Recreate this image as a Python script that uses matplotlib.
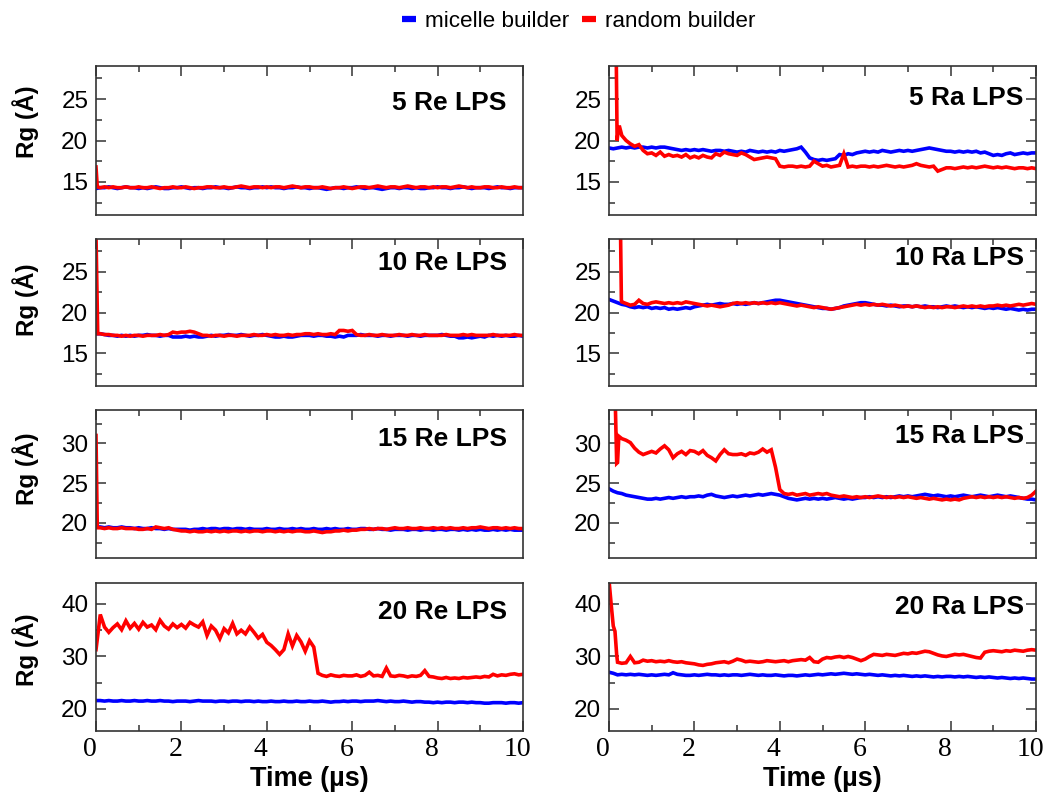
import numpy as np
import matplotlib
matplotlib.use('Agg')
import matplotlib.pyplot as plt
from matplotlib.lines import Line2D
from matplotlib.ticker import MultipleLocator
from matplotlib.transforms import ScaledTranslation

# -------------------------------------------------------------------
# Data: Rg (Angstrom) sampled every 0.1 us from 0 to 10 us
# -------------------------------------------------------------------
SAMPLE_TIME = np.linspace(0, 10, 101)

re5_micelle = [
    14.2, 14.3, 14.3, 14.4, 14.3, 14.2, 14.3, 14.4, 14.3, 14.3,
    14.2, 14.3, 14.2, 14.3, 14.4, 14.3, 14.2, 14.2, 14.3, 14.3,
    14.4, 14.3, 14.2, 14.3, 14.3, 14.2, 14.3, 14.3, 14.4, 14.3,
    14.3, 14.2, 14.3, 14.4, 14.3, 14.3, 14.2, 14.3, 14.3, 14.4,
    14.3, 14.4, 14.3, 14.3, 14.2, 14.3, 14.3, 14.4, 14.3, 14.3,
    14.2, 14.3, 14.3, 14.2, 14.1, 14.2, 14.3, 14.3, 14.2, 14.3,
    14.3, 14.4, 14.3, 14.2, 14.3, 14.3, 14.2, 14.1, 14.2, 14.3,
    14.3, 14.2, 14.3, 14.3, 14.2, 14.3, 14.2, 14.2, 14.3, 14.3,
    14.4, 14.3, 14.3, 14.2, 14.3, 14.3, 14.4, 14.3, 14.2, 14.3,
    14.3, 14.3, 14.2, 14.3, 14.4, 14.3, 14.3, 14.2, 14.3, 14.3,
    14.3]
re5_random = [
    16.8, 14.3, 14.4, 14.3, 14.4, 14.3, 14.3, 14.4, 14.3, 14.3,
    14.4, 14.3, 14.3, 14.4, 14.3, 14.2, 14.3, 14.3, 14.4, 14.3,
    14.3, 14.4, 14.3, 14.2, 14.3, 14.3, 14.4, 14.4, 14.3, 14.3,
    14.4, 14.3, 14.3, 14.4, 14.5, 14.4, 14.3, 14.4, 14.4, 14.3,
    14.4, 14.3, 14.4, 14.4, 14.3, 14.4, 14.5, 14.4, 14.3, 14.4,
    14.4, 14.3, 14.3, 14.4, 14.3, 14.2, 14.3, 14.3, 14.4, 14.3,
    14.2, 14.3, 14.4, 14.4, 14.3, 14.4, 14.5, 14.4, 14.3, 14.4,
    14.4, 14.3, 14.4, 14.5, 14.4, 14.3, 14.4, 14.4, 14.3, 14.4,
    14.3, 14.4, 14.4, 14.3, 14.4, 14.5, 14.4, 14.3, 14.4, 14.3,
    14.3, 14.4, 14.4, 14.3, 14.3, 14.4, 14.3, 14.3, 14.4, 14.3,
    14.3]
re5_random_early_t = [0.03]
re5_random_early = [14.4]

re10_micelle = [
    17.4, 17.4, 17.3, 17.2, 17.2, 17.1, 17.2, 17.1, 17.2, 17.1,
    17.2, 17.2, 17.3, 17.2, 17.2, 17.1, 17.2, 17.2, 17.0, 17.0,
    17.0, 17.1, 17.0, 17.1, 17.0, 17.0, 17.1, 17.2, 17.1, 17.2,
    17.2, 17.3, 17.2, 17.2, 17.3, 17.2, 17.1, 17.2, 17.2, 17.3,
    17.2, 17.1, 17.0, 17.0, 17.1, 17.0, 17.0, 17.1, 17.2, 17.2,
    17.2, 17.1, 17.2, 17.2, 17.1, 17.1, 17.0, 17.1, 17.0, 17.2,
    17.2, 17.2, 17.3, 17.2, 17.2, 17.2, 17.1, 17.2, 17.2, 17.1,
    17.2, 17.2, 17.2, 17.1, 17.2, 17.2, 17.1, 17.2, 17.2, 17.2,
    17.2, 17.3, 17.2, 17.1, 17.1, 16.9, 16.9, 17.0, 16.9, 17.0,
    17.1, 17.0, 17.2, 17.1, 17.2, 17.1, 17.2, 17.1, 17.1, 17.2,
    17.1]
re10_random = [
    29.5, 17.4, 17.3, 17.3, 17.2, 17.2, 17.1, 17.2, 17.1, 17.2,
    17.2, 17.1, 17.2, 17.2, 17.2, 17.3, 17.2, 17.3, 17.6, 17.5,
    17.6, 17.6, 17.7, 17.6, 17.4, 17.2, 17.2, 17.1, 17.2, 17.2,
    17.1, 17.2, 17.2, 17.1, 17.2, 17.2, 17.2, 17.3, 17.2, 17.2,
    17.3, 17.2, 17.3, 17.2, 17.2, 17.3, 17.2, 17.3, 17.3, 17.4,
    17.4, 17.3, 17.4, 17.3, 17.3, 17.4, 17.3, 17.8, 17.8, 17.7,
    17.8, 17.3, 17.2, 17.2, 17.3, 17.2, 17.2, 17.3, 17.2, 17.2,
    17.2, 17.3, 17.2, 17.2, 17.3, 17.2, 17.2, 17.3, 17.2, 17.2,
    17.2, 17.2, 17.3, 17.2, 17.2, 17.2, 17.3, 17.2, 17.3, 17.2,
    17.2, 17.2, 17.2, 17.3, 17.2, 17.2, 17.2, 17.2, 17.3, 17.2,
    17.2]
re10_random_early_t = [0.04]
re10_random_early = [17.4]

re15_micelle = [
    19.5, 19.5, 19.4, 19.5, 19.4, 19.4, 19.5, 19.4, 19.4, 19.3,
    19.4, 19.3, 19.3, 19.4, 19.3, 19.3, 19.2, 19.3, 19.2, 19.2,
    19.2, 19.2, 19.1, 19.2, 19.2, 19.3, 19.2, 19.3, 19.3, 19.2,
    19.3, 19.3, 19.2, 19.3, 19.3, 19.2, 19.3, 19.2, 19.2, 19.2,
    19.3, 19.2, 19.2, 19.3, 19.2, 19.2, 19.3, 19.2, 19.3, 19.2,
    19.2, 19.3, 19.2, 19.2, 19.3, 19.2, 19.3, 19.2, 19.2, 19.3,
    19.2, 19.2, 19.3, 19.3, 19.2, 19.2, 19.3, 19.2, 19.2, 19.1,
    19.2, 19.2, 19.2, 19.1, 19.2, 19.2, 19.1, 19.2, 19.2, 19.1,
    19.2, 19.2, 19.1, 19.2, 19.2, 19.1, 19.2, 19.1, 19.2, 19.1,
    19.2, 19.1, 19.1, 19.2, 19.1, 19.2, 19.1, 19.2, 19.1, 19.1,
    19.1]
re15_random = [
    31.0, 19.4, 19.3, 19.4, 19.3, 19.3, 19.4, 19.3, 19.3, 19.3,
    19.2, 19.2, 19.3, 19.2, 19.5, 19.4, 19.3, 19.4, 19.2, 19.1,
    19.0, 19.0, 18.9, 19.0, 18.9, 18.9, 19.0, 18.9, 19.0, 18.9,
    19.0, 18.9, 19.0, 19.0, 18.9, 19.0, 18.9, 19.0, 19.0, 18.9,
    19.0, 19.0, 18.9, 19.0, 18.9, 19.0, 18.9, 19.0, 19.0, 18.9,
    18.9, 19.0, 18.9, 18.8, 18.9, 18.9, 19.0, 19.0, 19.1, 19.0,
    19.1, 19.1, 19.2, 19.2, 19.3, 19.2, 19.3, 19.3, 19.2, 19.3,
    19.4, 19.3, 19.3, 19.4, 19.3, 19.3, 19.4, 19.3, 19.3, 19.4,
    19.3, 19.4, 19.3, 19.4, 19.3, 19.3, 19.4, 19.3, 19.4, 19.4,
    19.5, 19.4, 19.3, 19.4, 19.4, 19.3, 19.4, 19.3, 19.4, 19.3,
    19.3]
re15_random_early_t = [0.03]
re15_random_early = [19.4]

re20_micelle = [
    21.6, 21.6, 21.5, 21.6, 21.5, 21.5, 21.6, 21.5, 21.5, 21.6,
    21.5, 21.5, 21.6, 21.5, 21.5, 21.6, 21.5, 21.5, 21.4, 21.5,
    21.5, 21.5, 21.4, 21.5, 21.6, 21.5, 21.5, 21.5, 21.4, 21.5,
    21.5, 21.4, 21.5, 21.5, 21.4, 21.5, 21.5, 21.4, 21.5, 21.4,
    21.4, 21.5, 21.4, 21.4, 21.5, 21.4, 21.4, 21.5, 21.4, 21.4,
    21.5, 21.4, 21.4, 21.5, 21.4, 21.3, 21.4, 21.4, 21.5, 21.4,
    21.5, 21.5, 21.4, 21.5, 21.5, 21.5, 21.6, 21.5, 21.4, 21.5,
    21.4, 21.4, 21.5, 21.4, 21.3, 21.4, 21.4, 21.3, 21.3, 21.2,
    21.3, 21.2, 21.3, 21.3, 21.2, 21.3, 21.3, 21.2, 21.3, 21.2,
    21.2, 21.1, 21.1, 21.2, 21.2, 21.2, 21.1, 21.2, 21.2, 21.1,
    21.2]
re20_random = [
    31.3, 38.0, 35.6, 34.6, 35.5, 36.2, 35.1, 36.8, 35.4, 36.3,
    35.2, 36.5, 35.6, 36.0, 35.1, 36.9, 35.8, 35.2, 36.2, 35.5,
    36.1, 35.4, 36.5, 36.0, 35.6, 36.6, 34.0, 35.8, 35.0, 33.4,
    35.3, 34.5, 36.3, 34.3, 35.0, 34.3, 35.6, 34.6, 33.5, 34.2,
    32.7, 32.1, 31.3, 30.4, 31.3, 34.3, 32.0, 34.0, 32.8, 31.0,
    33.0, 31.8, 26.8, 26.4, 26.2, 26.5, 26.3, 26.2, 26.4, 26.3,
    26.3, 26.5, 26.2, 26.4, 27.0, 26.3, 26.4, 26.2, 27.8, 26.3,
    26.2, 26.4, 26.3, 26.1, 26.3, 26.2, 26.4, 27.3, 26.2, 26.1,
    25.9, 25.8, 26.0, 25.8, 25.9, 25.8, 26.0, 25.9, 26.0, 26.1,
    26.0, 26.2, 26.1, 26.6, 26.3, 26.5, 26.4, 26.6, 26.7, 26.5,
    26.6]
re20_random_early_t = [0.05]
re20_random_early = [34.6]

ra5_micelle = [
    19.1, 19.0, 19.1, 19.2, 19.1, 19.2, 19.1, 19.2, 19.2, 19.1,
    19.2, 19.1, 19.2, 19.2, 19.1, 19.0, 18.9, 18.8, 18.9, 18.8,
    18.9, 18.8, 18.9, 18.8, 18.7, 18.8, 18.8, 18.7, 18.8, 18.7,
    18.6, 18.7, 18.6, 18.8, 18.7, 18.6, 18.7, 18.6, 18.7, 18.6,
    18.8, 18.7, 18.8, 18.9, 19.0, 19.2, 18.6, 17.9, 17.7, 17.6,
    17.7, 17.6, 17.7, 17.8, 18.3, 18.2, 18.4, 18.3, 18.5, 18.6,
    18.7, 18.6, 18.7, 18.6, 18.8, 18.7, 18.6, 18.7, 18.8, 18.7,
    18.8, 18.7, 18.8, 18.9, 19.0, 19.1, 19.0, 18.9, 18.8, 18.7,
    18.7, 18.6, 18.7, 18.6, 18.7, 18.6, 18.7, 18.5, 18.6, 18.4,
    18.2, 18.3, 18.2, 18.4, 18.5, 18.3, 18.4, 18.5, 18.4, 18.5,
    18.5]
ra5_random = [
    32.0, 31.0, 20.5, 20.6, 20.0, 19.6, 19.3, 19.5, 18.8, 18.4,
    18.5, 18.2, 18.6, 18.1, 18.3, 18.1, 18.2, 18.0, 18.3, 17.9,
    18.1, 17.9, 18.2, 18.0, 17.9, 18.4, 18.2, 18.6, 18.4, 18.3,
    18.2, 18.5, 18.3, 18.0, 17.7, 17.8, 17.9, 18.0, 17.9, 17.8,
    16.9, 16.8, 16.9, 16.9, 16.8, 16.9, 16.8, 16.9, 17.5, 17.2,
    16.9, 17.0, 16.8, 16.9, 17.0, 18.4, 16.8, 16.9, 16.8, 16.9,
    16.9, 16.8, 16.9, 16.8, 16.9, 17.0, 16.9, 16.8, 16.9, 16.8,
    16.9, 17.0, 17.2, 17.0, 16.9, 16.8, 16.9, 16.3, 16.5, 16.7,
    16.7, 16.6, 16.7, 16.8, 16.7, 16.8, 16.7, 16.8, 16.9, 16.8,
    16.7, 16.8, 16.7, 16.8, 16.7, 16.6, 16.7, 16.7, 16.6, 16.7,
    16.6]
ra5_random_early_t = [0.17, 0.19, 0.24]
ra5_random_early = [30.0, 20.0, 21.8]

ra10_micelle = [
    21.6, 21.4, 21.2, 21.0, 20.9, 20.7, 20.6, 20.7, 20.6, 20.7,
    20.5, 20.6, 20.5, 20.6, 20.4, 20.5, 20.4, 20.5, 20.6, 20.5,
    20.7, 20.8, 20.9, 21.0, 20.9, 21.0, 21.1, 21.0, 21.0, 21.1,
    21.0, 21.1, 21.0, 21.1, 21.2, 21.1, 21.2, 21.3, 21.4, 21.5,
    21.5, 21.4, 21.3, 21.2, 21.1, 21.0, 20.9, 20.8, 20.7, 20.6,
    20.5, 20.5, 20.4, 20.5, 20.6, 20.8, 20.9, 21.0, 21.1, 21.2,
    21.2, 21.1, 21.0, 20.9, 20.9, 20.8, 20.9, 20.8, 20.7, 20.8,
    20.8, 20.7, 20.8, 20.7, 20.8, 20.7, 20.7, 20.6, 20.7, 20.8,
    20.7, 20.8, 20.7, 20.6, 20.7, 20.6, 20.7, 20.6, 20.5, 20.6,
    20.5, 20.6, 20.5, 20.4, 20.5, 20.4, 20.3, 20.4, 20.3, 20.4,
    20.4]
ra10_random = [
    31.0, 31.0, 31.0, 21.3, 21.1, 20.9, 21.0, 21.5, 21.1, 21.0,
    21.2, 21.3, 21.2, 21.1, 21.2, 21.1, 21.2, 21.1, 21.3, 21.2,
    21.1, 21.0, 20.9, 20.8, 20.9, 20.8, 20.7, 20.8, 20.9, 21.1,
    21.2, 21.1, 21.2, 21.1, 21.2, 21.1, 21.2, 21.1, 21.2, 21.1,
    21.2, 21.1, 21.0, 20.9, 20.8, 20.9, 20.8, 20.7, 20.6, 20.7,
    20.6, 20.5, 20.4, 20.5, 20.6, 20.7, 20.8, 20.9, 21.0, 20.9,
    21.0, 20.9, 21.0, 20.9, 21.0, 20.9, 20.8, 20.9, 20.8, 20.7,
    20.8, 20.7, 20.8, 20.7, 20.6, 20.7, 20.6, 20.7, 20.6, 20.7,
    20.7, 20.6, 20.7, 20.8, 20.7, 20.8, 20.7, 20.8, 20.7, 20.8,
    20.8, 20.9, 20.8, 20.9, 20.8, 20.9, 21.0, 20.9, 21.0, 21.1,
    21.0]
ra10_random_early_t = [0.27, 0.29]
ra10_random_early = [30.0, 21.4]

ra15_micelle = [
    24.3, 24.0, 23.8, 23.7, 23.5, 23.4, 23.3, 23.2, 23.1, 23.0,
    23.0, 23.1, 23.0, 23.1, 23.2, 23.1, 23.2, 23.3, 23.2, 23.3,
    23.3, 23.4, 23.3, 23.5, 23.6, 23.4, 23.3, 23.2, 23.3, 23.4,
    23.3, 23.4, 23.5, 23.4, 23.5, 23.6, 23.5, 23.6, 23.7, 23.6,
    23.5, 23.3, 23.1, 23.0, 22.9, 23.0, 23.1, 23.0, 23.1, 23.0,
    23.1, 23.0, 23.1, 23.2, 23.1, 23.0, 23.1, 23.0, 23.1, 23.2,
    23.2, 23.3, 23.2, 23.3, 23.2, 23.3, 23.2, 23.3, 23.4, 23.3,
    23.4, 23.3, 23.4, 23.5, 23.6, 23.5, 23.4, 23.5, 23.4, 23.3,
    23.4, 23.3, 23.4, 23.5, 23.4, 23.3, 23.4, 23.5, 23.4, 23.3,
    23.4, 23.5, 23.4, 23.3, 23.4, 23.3, 23.2, 23.1, 23.0, 23.0,
    22.9]
ra15_random = [
    35.0, 35.0, 27.6, 30.6, 30.4, 30.1, 29.4, 28.9, 28.6, 28.8,
    29.0, 28.8, 29.3, 29.7, 29.2, 28.2, 28.7, 29.0, 28.6, 29.1,
    29.0, 28.7, 29.1, 28.5, 28.2, 27.8, 28.6, 29.2, 28.7, 28.6,
    28.6, 28.7, 28.5, 28.8, 28.7, 28.9, 29.3, 28.9, 29.2, 27.0,
    24.2, 23.7, 23.6, 23.7, 23.5, 23.6, 23.7, 23.5, 23.6, 23.7,
    23.6, 23.7, 23.5, 23.4, 23.3, 23.4, 23.3, 23.2, 23.3, 23.2,
    23.3, 23.2, 23.3, 23.4, 23.3, 23.2, 23.3, 23.2, 23.3, 23.2,
    23.3, 23.2, 23.1, 23.2, 23.1, 23.0, 23.1, 23.0, 22.9, 23.0,
    22.9, 23.0, 22.9, 23.1, 23.2, 23.3, 23.2, 23.3, 23.2, 23.3,
    23.2, 23.3, 23.2, 23.3, 23.2, 23.1, 23.2, 23.1, 23.2, 23.5,
    24.0]
ra15_random_early_t = [0.15, 0.18, 0.23]
ra15_random_early = [34.5, 27.5, 30.9]

ra20_micelle = [
    27.0, 26.8, 26.5, 26.6, 26.5, 26.6, 26.5, 26.6, 26.5, 26.4,
    26.5, 26.4, 26.5, 26.6, 26.5, 26.9, 26.6, 26.5, 26.4, 26.4,
    26.5, 26.4, 26.5, 26.6, 26.5, 26.5, 26.4, 26.5, 26.4, 26.5,
    26.5, 26.4, 26.5, 26.6, 26.5, 26.4, 26.5, 26.4, 26.4, 26.5,
    26.4, 26.3, 26.4, 26.4, 26.3, 26.4, 26.5, 26.4, 26.5, 26.6,
    26.5, 26.6, 26.7, 26.6, 26.7, 26.8, 26.7, 26.6, 26.7, 26.6,
    26.5, 26.6, 26.5, 26.4, 26.5, 26.4, 26.3, 26.4, 26.3, 26.4,
    26.3, 26.2, 26.3, 26.2, 26.3, 26.2, 26.1, 26.2, 26.1, 26.2,
    26.2, 26.1, 26.2, 26.1, 26.2, 26.1, 26.0, 26.1, 26.0, 26.1,
    26.0, 25.9, 26.0, 25.9, 25.8, 25.9, 25.8, 25.9, 25.8, 25.7,
    25.7]
ra20_random = [
    44.5, 35.8, 28.9, 28.7, 28.8, 30.0, 28.8, 28.9, 29.3, 29.1,
    29.2, 29.0, 29.1, 29.0, 29.2, 29.0, 28.9, 29.0, 28.8, 28.7,
    28.6, 28.4, 28.3, 28.5, 28.6, 28.8, 28.9, 29.0, 28.8, 29.1,
    29.5, 29.3, 29.0, 29.1, 29.0, 28.9, 29.0, 29.2, 29.1, 29.0,
    29.1, 29.2, 29.0, 29.2, 29.3, 29.4, 29.3, 29.8, 29.0, 28.9,
    29.5, 29.8, 29.7, 29.9, 30.0, 29.8, 30.0, 29.8, 29.5, 29.2,
    29.5, 30.0, 30.4, 30.3, 30.2, 30.4, 30.3, 30.2, 30.4, 30.6,
    30.5, 30.7, 30.6, 30.8, 31.0, 30.9, 30.6, 30.3, 30.1, 30.0,
    30.2, 30.4, 30.3, 30.4, 30.2, 30.0, 29.8, 29.7, 30.8, 31.0,
    31.1, 31.0, 30.9, 31.1, 31.0, 31.2, 31.1, 31.0, 31.2, 31.3,
    31.2]
ra20_random_early_t = [0.05, 0.14, 0.18]
ra20_random_early = [40.0, 34.8, 30.3]

TITLES = ['5 Re LPS', '10 Re LPS', '15 Re LPS', '20 Re LPS',
          '5 Ra LPS', '10 Ra LPS', '15 Ra LPS', '20 Ra LPS']
MICELLE = [re5_micelle, re10_micelle, re15_micelle, re20_micelle,
           ra5_micelle, ra10_micelle, ra15_micelle, ra20_micelle]
RANDOM = [re5_random, re10_random, re15_random, re20_random,
          ra5_random, ra10_random, ra15_random, ra20_random]
RANDOM_EARLY_T = [re5_random_early_t, re10_random_early_t, re15_random_early_t,
                  re20_random_early_t, ra5_random_early_t, ra10_random_early_t,
                  ra15_random_early_t, ra20_random_early_t]
RANDOM_EARLY = [re5_random_early, re10_random_early, re15_random_early,
                re20_random_early, ra5_random_early, ra10_random_early,
                ra15_random_early, ra20_random_early]

for s in MICELLE + RANDOM:
    assert len(s) == len(SAMPLE_TIME), len(s)

# -------------------------------------------------------------------
# Layout / style
# -------------------------------------------------------------------
W, H = 1050, 793
COL_X = [(96, 523), (609, 1036)]                  # pixel left/right
ROW_Y = [(66, 215), (239, 386), (410, 558), (583, 731)]  # pixel top/bottom
YLIMS = [(11, 29), (11, 29), (15.6, 34.2), (15.8, 44)]
YMAJOR = [5, 5, 5, 10]
TITLE_Y = [[0.705, 0.79, 0.755, 0.76], [0.735, 0.82, 0.78, 0.79]]
TITLE_X = [0.962, 0.971]
YLABEL_Y = [122, 300, 469, 650]

BLUE = '#0000ff'
RED = '#ff0000'
SPINE = '#333333'
SANS = ['Liberation Sans', 'DejaVu Sans']
SERIF = ['Liberation Serif', 'DejaVu Serif']

plt.rcParams['font.family'] = SANS

fig = plt.figure(figsize=(W / 100, H / 100), dpi=100)
shift = ScaledTranslation(-6 / 100, 0, fig.dpi_scale_trans)


def series_xy(values, early_t, early_v):
    t = np.concatenate([SAMPLE_TIME, early_t])
    v = np.concatenate([values, early_v])
    order = np.argsort(t, kind='stable')
    return t[order], v[order]


for col in range(2):
    for row in range(4):
        i = col * 4 + row
        x0, x1 = COL_X[col]
        yt, yb = ROW_Y[row]
        ax = fig.add_axes([x0 / W, 1 - yb / H, (x1 - x0) / W, (yb - yt) / H])

        ax.plot(SAMPLE_TIME, MICELLE[i], color=BLUE, lw=2.6, solid_joinstyle='miter')
        tr, vr = series_xy(RANDOM[i], RANDOM_EARLY_T[i], RANDOM_EARLY[i])
        ax.plot(tr, vr, color=RED, lw=2.6, solid_joinstyle='miter')

        ax.set_xlim(0, 10)
        ax.set_ylim(*YLIMS[row])
        ax.xaxis.set_major_locator(MultipleLocator(2))
        ax.xaxis.set_minor_locator(MultipleLocator(1))
        ax.yaxis.set_major_locator(MultipleLocator(YMAJOR[row]))
        ax.yaxis.set_minor_locator(MultipleLocator(YMAJOR[row] / 2))

        last = row == 3
        ax.tick_params(axis='x', which='both', direction='in',
                       top=not last, bottom=last, labelbottom=last,
                       color=SPINE, width=1.1)
        ax.tick_params(axis='y', which='both', direction='in',
                       left=True, right=(col == 1), color=SPINE, width=1.1)
        ax.tick_params(which='major', length=7.5)
        ax.tick_params(which='minor', length=4.5)
        ax.tick_params(axis='y', labelsize=17.5, pad=5.5)
        ax.tick_params(axis='x', labelsize=20, pad=4.5)
        for lab in ax.get_yticklabels():
            lab.set_family(SANS)
        if last:
            ax.set_xticks([0, 2, 4, 6, 8, 10])
            ax.set_xticklabels(['0', '2', '4', '6', '8', '10'],
                               family=SERIF, fontsize=20)
            for lab in ax.get_xticklabels():
                lab.set_transform(lab.get_transform() + shift)
            ax.set_xlabel('Time (µs)', fontsize=19.5, fontweight='bold',
                          labelpad=3)

        for sp in ax.spines.values():
            sp.set_color(SPINE)
            sp.set_linewidth(1.2)

        ax.text(TITLE_X[col], TITLE_Y[col][row], TITLES[i],
                transform=ax.transAxes, ha='right', va='baseline',
                fontsize=19, fontweight='bold')

for row in range(4):
    fig.text(0.024, 1 - YLABEL_Y[row] / H, 'Rg (Å)', rotation=90,
             ha='center', va='center', fontsize=17.5, fontweight='bold')

handles = [Line2D([], [], color=BLUE, lw=4.5, solid_capstyle='butt'),
           Line2D([], [], color=RED, lw=4.5, solid_capstyle='butt')]
fig.legend(handles, ['micelle builder', 'random builder'], loc='center',
           bbox_to_anchor=(0.551, 0.973), ncol=2, frameon=False,
           fontsize=16.2, handlelength=0.6, handletextpad=0.4,
           columnspacing=0.6, borderpad=0.2)

fig.savefig('out.png', dpi=100, facecolor='white')
